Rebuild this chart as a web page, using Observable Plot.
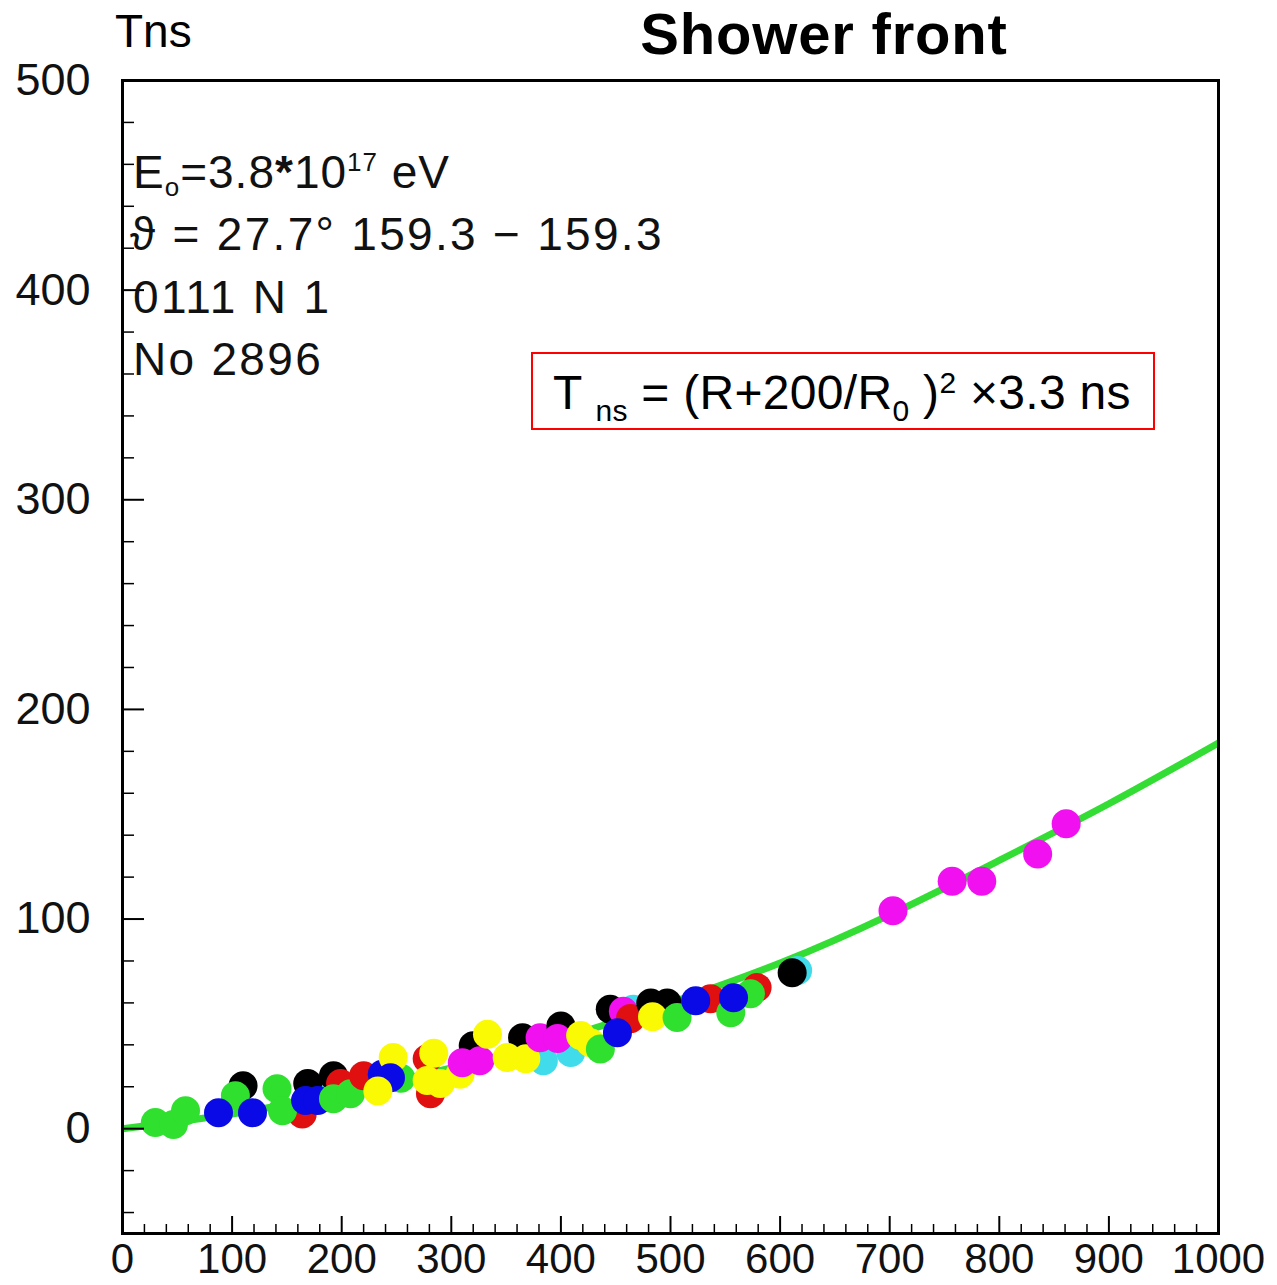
<!DOCTYPE html>
<html><head><meta charset="utf-8">
<script src="https://cdn.jsdelivr.net/npm/d3@7"></script>
<script src="https://cdn.jsdelivr.net/npm/@observablehq/plot@0.6"></script>
<style>
body{margin:0;background:#fff;}
#wrap{position:relative;width:1277px;height:1285px;overflow:hidden;font-family:"Liberation Sans",Arial,sans-serif;background:#fff;}
#wrap svg{position:absolute;left:0;top:0;}
.ov{position:absolute;line-height:1;white-space:nowrap;color:#000;}
.ann{font-size:46px;letter-spacing:2.3px;color:#111;}
</style></head><body><div id="wrap"></div>
<script>
// ---- data ----
const titleText = "Shower front";
const yTitle = "Tns";
const xTickLabels = [0,100,200,300,400,500,600,700,800,900,1000];
const yTickLabels = [0,100,200,300,400,500];
const xMinorTicks = d3.range(20,1000,20).filter(v => v % 100 !== 0);
const yMinorTicks = d3.range(-40,500,20).filter(v => v % 100 !== 0);

// fitted curve, sampled from the drawn green line
const curveX = [0,100,200,300,400,500,600,700,800,900,1000];
const curveY = [0,7,17,29,43,60,79,102,128,155,184];

// detector hits (draw order), colour category per hit
const ptX = [179,384,409,466,616, 30,46.5,57.5, 164, 110,103, 87.6,118.6, 141,146, 169,192.5, 167,178, 199, 192.5,208, 220, 254, 237, 247, 244.5, 233, 278,281, 278,284,290, 320, 308, 310,326, 333, 365, 351,368, 381, 400, 397, 418,427, 436, 445, 457, 463.5, 451.6, 482,497, 483.6, 506, 536.5, 523, 579, 573,555, 557.5, 611, 703,757,784,835,861];
const ptY = [15.7,32.4,36.3,57,75.4, 3,2,8.6, 7, 20.5,15.7, 7.6,7.6, 19,8.6, 21.5,25.3, 13.4,13.4, 21.5, 14.3,16.7, 25.3, 24, 26, 34, 24.3, 18, 33.4,16.7, 23,36,21.5, 39.6, 26, 31.5,32.4, 45, 43.4, 34,33.4, 43.4, 49, 43, 44.4,41, 38, 57, 56, 52.5, 45.8, 60,60, 53.4, 53, 62, 61, 67.3, 64.4,55.3, 62.5, 74.4, 104,118,118,131,145.5];
const ptColor = ["cyanHit","cyanHit","cyanHit","cyanHit","cyanHit", "greenHit","greenHit","greenHit", "redHit", "blackHit","greenHit", "blueHit","blueHit", "greenHit","greenHit", "blackHit","blackHit", "blueHit","blueHit", "redHit", "greenHit","greenHit", "redHit", "greenHit", "blueHit", "yellowHit", "blueHit", "yellowHit", "redHit","redHit", "yellowHit","yellowHit","yellowHit", "blackHit", "yellowHit", "magentaHit","magentaHit", "yellowHit", "blackHit", "yellowHit","yellowHit", "magentaHit", "blackHit", "magentaHit", "yellowHit","yellowHit", "greenHit", "blackHit", "magentaHit", "redHit", "blueHit", "blackHit","blackHit", "yellowHit", "greenHit", "redHit", "blueHit", "redHit", "greenHit","greenHit", "blueHit", "blackHit", "magentaHit","magentaHit","magentaHit","magentaHit","magentaHit"];
const colorNames = ["greenHit","blueHit","blackHit","redHit","yellowHit","magentaHit","cyanHit"];
const colorValues = ["#2fe02f","#0a0ae6","#000000","#e01010","#fafa05","#f010f0","#40dcec"];

// ---- build ----
const curve = curveX.map((x,i) => ({x, y: curveY[i]}));
const pts = ptX.map((x,i) => ({x, y: ptY[i], c: ptColor[i]}));
const W = 1277, H = 1285;
const font = "Liberation Sans, Arial, sans-serif";

const chart = Plot.plot({
  width: W, height: H,
  marginLeft: 122, marginRight: 59, marginTop: 80, marginBottom: 52,
  style: {fontFamily: font, background: "transparent"},
  x: {domain: [0,1000]},
  y: {domain: [-50,500]},
  color: {type: "ordinal", domain: colorNames, range: colorValues},
  marks: [
    Plot.line(curve, {x:"x", y:"y", stroke:"#33dd33", strokeWidth:7, curve:"natural", clip:true}),
    Plot.dot(pts, {x:"x", y:"y", r:14.5, fill:"c", stroke:null}),
    // inward ticks on bottom axis
    Plot.ruleX(xTickLabels, {x: d=>d, y1:-50, y2:-50+17/2.096, stroke:"#000", strokeWidth:2}),
    Plot.ruleX(xMinorTicks, {x: d=>d, y1:-50, y2:-50+9/2.096, stroke:"#000", strokeWidth:1.5}),
    // inward ticks on left axis
    Plot.ruleY(yTickLabels, {y: d=>d, x1:0, x2:22/1.096, stroke:"#000", strokeWidth:2}),
    Plot.ruleY(yMinorTicks, {y: d=>d, x1:0, x2:12/1.096, stroke:"#000", strokeWidth:1.5}),
    Plot.frame({stroke:"#000", strokeWidth:3}),
    Plot.axisX({ticks: xTickLabels, tickSize:0, tickPadding:10, fontSize:42, label:null, tickFormat: d=>String(d), fill:"#111"}),
    Plot.axisY({ticks: yTickLabels, tickSize:0, tickPadding:32, fontSize:45, label:null, tickFormat: d=>String(d), fill:"#111"})
  ]
});
const wrap = document.getElementById("wrap");
wrap.appendChild(chart);

function ov(html, left, baseline, size, cls, extra) {
  const d = document.createElement("div");
  d.className = "ov " + (cls||"");
  d.style.left = left + "px";
  d.style.top = (baseline - 0.8465*size) + "px";
  d.style.fontSize = size + "px";
  if (extra) Object.assign(d.style, extra);
  d.innerHTML = html;
  wrap.appendChild(d);
  return d;
}
// title and axis title
ov(titleText, 524, 54, 58, "", {fontWeight:"bold", width:"600px", textAlign:"center", letterSpacing:"0.8px"});
ov(yTitle, 115, 47, 46);

// event annotations
ov('E<span style="font-size:26px;position:relative;top:8px">o</span>=3.8<span style="font-weight:bold">*</span>10<span style="font-size:26px;position:relative;top:-17px">17</span> eV', 133, 188, 46, "ann", {letterSpacing:"1px"});
ov('&#977; = 27.7&#176; 159.3 &#8722; 159.3', 130, 250, 46, "ann");
ov('0111 N 1', 133, 313, 46, "ann");
ov('No 2896', 133, 375, 46, "ann");

// formula box
const box = document.createElement("div");
box.className = "ov";
Object.assign(box.style, {left:"531px", top:"352px", width:"620px", height:"74px", border:"2px solid #ff0000"});
wrap.appendChild(box);
ov('T <span style="font-size:30px;position:relative;top:12px">ns</span> = (R+200/R<span style="font-size:30px;position:relative;top:12px">0</span> )<span style="font-size:30px;position:relative;top:-16px">2</span> &#215;3.3 ns', 553, 410, 48, "", {letterSpacing:"0.3px"});
</script>
</body></html>
